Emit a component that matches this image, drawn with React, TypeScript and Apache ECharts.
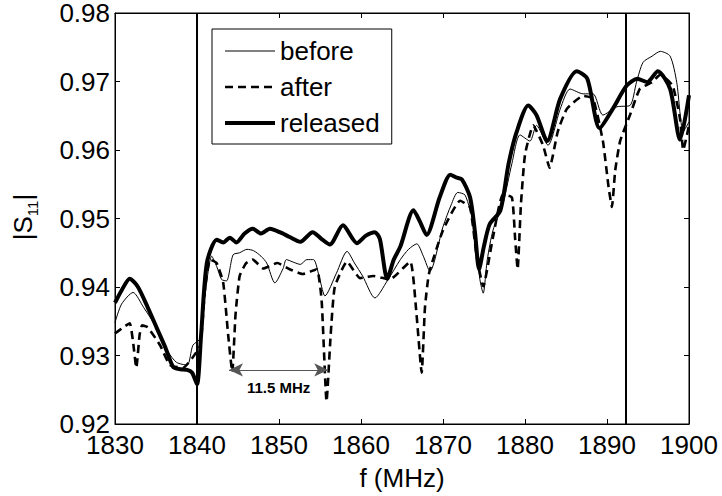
import React, { useEffect, useRef } from "react";
import * as echarts from "echarts";

const FONT = "'Liberation Sans', Arial, Helvetica, sans-serif";

// frequency (MHz) / |S11| readings for each measurement state
const beforeX = [1830, 1830.8, 1832.2, 1833.5, 1835.1, 1836.5, 1837.5, 1838.8, 1839.5, 1840.4, 1841.0, 1841.8, 1842.4, 1843.0, 1843.6, 1844.4, 1845.2, 1846.1, 1846.9, 1847.8, 1848.5, 1849.5, 1850.5, 1850.9, 1851.8, 1852.6, 1853.4, 1854.2, 1855.0, 1855.6, 1857.0, 1858.3, 1859.2, 1860.2, 1861.7, 1863.2, 1864.8, 1865.8, 1866.8, 1867.6, 1868.4, 1870.0, 1871.0, 1871.8, 1872.7, 1873.7, 1874.5, 1874.9, 1875.4, 1876.1, 1877.3, 1878.4, 1879.4, 1880.6, 1881.4, 1882.8, 1884.3, 1885.5, 1887.1, 1888.3, 1889.5, 1891.2, 1892.8, 1893.6, 1894.4, 1895.5, 1896.5, 1897.7, 1898.5, 1899.3, 1900.0];
const beforeY = [0.9348, 0.9375, 0.9392, 0.9370, 0.9340, 0.9305, 0.9290, 0.9286, 0.9315, 0.9325, 0.9390, 0.9445, 0.9430, 0.9411, 0.9409, 0.9447, 0.9450, 0.9455, 0.9453, 0.9445, 0.9435, 0.9406, 0.9427, 0.9440, 0.9436, 0.9433, 0.9440, 0.9440, 0.9410, 0.9387, 0.9420, 0.9452, 0.9435, 0.9416, 0.9384, 0.9409, 0.9440, 0.9455, 0.9463, 0.9445, 0.9423, 0.9488, 0.9520, 0.9538, 0.9534, 0.9492, 0.9411, 0.9391, 0.9440, 0.9483, 0.9521, 0.9580, 0.9622, 0.9613, 0.9636, 0.9607, 0.9660, 0.9689, 0.9682, 0.9682, 0.9651, 0.9663, 0.9665, 0.9699, 0.9728, 0.9737, 0.9744, 0.9737, 0.9699, 0.9627, 0.9641];

const afterX = [1830, 1831.0, 1831.8, 1832.2, 1832.6, 1833.0, 1833.3, 1834.0, 1835.5, 1836.7, 1838.3, 1839.4, 1840.4, 1841.0, 1841.6, 1842.4, 1843.2, 1843.8, 1844.3, 1844.7, 1845.2, 1846.0, 1846.8, 1848.1, 1849.8, 1851.3, 1852.9, 1854.6, 1855.2, 1855.8, 1856.3, 1856.8, 1858.3, 1859.9, 1861.5, 1863.5, 1866.0, 1866.7, 1867.4, 1867.8, 1868.3, 1870.0, 1872.1, 1873.3, 1874.1, 1874.9, 1876.1, 1877.3, 1878.4, 1878.8, 1879.1, 1879.5, 1880.0, 1881.0, 1882.2, 1883.0, 1884.0, 1885.1, 1887.1, 1888.3, 1889.5, 1890.2, 1890.6, 1891.0, 1891.6, 1892.8, 1894.0, 1895.5, 1896.5, 1898.0, 1898.9, 1899.3, 1900.0];
const afterY = [0.9332, 0.9341, 0.9347, 0.9320, 0.9282, 0.9330, 0.9344, 0.9341, 0.9315, 0.9286, 0.9282, 0.9296, 0.9315, 0.9400, 0.9440, 0.9435, 0.9406, 0.9330, 0.9276, 0.9360, 0.9416, 0.9435, 0.9440, 0.9427, 0.9435, 0.9426, 0.9419, 0.9426, 0.9380, 0.9233, 0.9330, 0.9400, 0.9437, 0.9413, 0.9416, 0.9411, 0.9437, 0.9370, 0.9275, 0.9370, 0.9420, 0.9483, 0.9526, 0.9516, 0.9445, 0.9401, 0.9473, 0.9535, 0.9531, 0.9470, 0.9426, 0.9520, 0.9593, 0.9636, 0.9607, 0.9574, 0.9627, 0.9660, 0.9679, 0.9675, 0.9613, 0.9545, 0.9517, 0.9570, 0.9613, 0.9651, 0.9689, 0.9699, 0.9710, 0.9694, 0.9646, 0.9600, 0.9636];

const releasedX = [1830, 1830.8, 1831.8, 1832.8, 1834.0, 1835.1, 1836.2, 1837.1, 1838.0, 1838.8, 1839.4, 1840.0, 1840.5, 1841.2, 1842.4, 1843.2, 1844.0, 1844.8, 1845.8, 1846.8, 1847.8, 1848.9, 1850.1, 1851.3, 1852.6, 1854.1, 1855.2, 1856.2, 1857.8, 1859.5, 1860.6, 1861.7, 1862.3, 1863.2, 1864.0, 1864.8, 1866.4, 1867.2, 1868.0, 1869.6, 1870.9, 1871.6, 1872.3, 1873.3, 1873.9, 1874.4, 1875.0, 1875.7, 1877.0, 1878.0, 1879.0, 1880.4, 1881.4, 1882.7, 1884.3, 1886.3, 1887.6, 1889.1, 1890.7, 1892.4, 1893.7, 1894.9, 1896.2, 1897.7, 1898.9, 1900.0];
const releasedY = [0.9377, 0.9395, 0.9412, 0.9400, 0.9370, 0.9340, 0.9310, 0.9283, 0.9280, 0.9279, 0.9275, 0.9258, 0.9330, 0.9435, 0.9469, 0.9465, 0.9472, 0.9465, 0.9478, 0.9485, 0.9478, 0.9485, 0.9480, 0.9473, 0.9466, 0.9480, 0.9470, 0.9462, 0.9490, 0.9464, 0.9475, 0.9480, 0.9470, 0.9412, 0.9440, 0.9459, 0.9512, 0.9495, 0.9476, 0.9531, 0.9564, 0.9560, 0.9557, 0.9531, 0.9480, 0.9426, 0.9460, 0.9492, 0.9512, 0.9580, 0.9627, 0.9665, 0.9651, 0.9613, 0.9675, 0.9715, 0.9704, 0.9632, 0.9660, 0.9694, 0.9704, 0.9699, 0.9715, 0.9689, 0.9615, 0.9680];

const seriesNames = ["before", "after", "released"];
const markerFreqs = [1840, 1892.3];
const spanFreqs = [1843.9, 1856.0];
const spanLevel = 0.9279;
const spanLabel = "11.5 MHz";

const X_MIN = 1830, X_MAX = 1900, X_STEP = 10;
const Y_MIN = 0.92, Y_MAX = 0.98, Y_STEP = 0.01;

const zip = (xs: number[], ys: number[]) => xs.map((x, i) => [x, ys[i]]);

const thin = { color: "#000", width: 1, type: "solid" as const };
const dashed = { color: "#000", width: 2.6, type: [8, 5] as number[] };
const thick = { color: "#000", width: 4, type: "solid" as const };

export default function App() {
  const ref = useRef<HTMLDivElement>(null);
  useEffect(() => {
    if (!ref.current) return;
    const chart = echarts.init(ref.current, undefined, { renderer: "svg" });
    const axisCommon = {
      type: "value" as const,
      axisLine: { show: true, lineStyle: { color: "#000", width: 1 } },
      axisTick: { show: true, inside: true, length: 5, lineStyle: { color: "#000" } },
      splitLine: { show: false },
    };
    chart.setOption({
      animation: false,
      backgroundColor: "#fff",
      textStyle: { fontFamily: FONT },
      grid: { left: 115, right: 33, top: 13, bottom: 67, show: true, borderColor: "#000", borderWidth: 1 },
      legend: {
        data: [
          { name: seriesNames[0], lineStyle: thin },
          { name: seriesNames[1], lineStyle: dashed },
          { name: seriesNames[2], lineStyle: thick },
        ],
        orient: "vertical",
        left: 212,
        top: 29,
        backgroundColor: "#fff",
        borderColor: "#000",
        borderWidth: 1,
        borderRadius: 0,
        padding: [9, 12, 8, 11],
        itemWidth: 50,
        itemHeight: 24,
        itemGap: 10,
        itemStyle: { opacity: 0 },
        textStyle: { fontSize: 26, color: "#000", fontFamily: FONT },
        selectedMode: false,
      },
      xAxis: [
        {
          ...axisCommon,
          min: X_MIN, max: X_MAX, interval: X_STEP,
          position: "bottom",
          axisLabel: { show: true, fontSize: 26, color: "#000", margin: 8, fontFamily: FONT, formatter: (v: number) => String(v) },
          name: "f (MHz)",
          nameLocation: "middle",
          nameGap: 41,
          nameTextStyle: { fontSize: 26, color: "#000", fontFamily: FONT },
        },
        {
          ...axisCommon,
          min: X_MIN, max: X_MAX, interval: X_STEP,
          position: "top",
          axisLabel: { show: false },
        },
      ],
      yAxis: [
        {
          ...axisCommon,
          min: Y_MIN, max: Y_MAX, interval: Y_STEP,
          position: "left",
          axisLabel: { show: true, fontSize: 26, color: "#000", margin: 5, fontFamily: FONT, formatter: (v: number) => v.toFixed(2) },
        },
        {
          ...axisCommon,
          min: Y_MIN, max: Y_MAX, interval: Y_STEP,
          position: "right",
          axisLabel: { show: false },
        },
      ],
      graphic: [
        {
          type: "text",
          x: 23,
          y: 217,
          rotation: Math.PI / 2,
          style: {
            text: "{a||S}{b|11}{a||}",
            align: "center",
            verticalAlign: "middle",
            fill: "#000",
            fontFamily: FONT,
            rich: {
              a: { fontSize: 26, lineHeight: 34, fontFamily: FONT, fill: "#000" },
              b: { fontSize: 15, lineHeight: 15, verticalAlign: "bottom", fontFamily: FONT, fill: "#000" },
            },
          },
        },
      ],
      series: [
        {
          name: seriesNames[0],
          type: "line",
          data: zip(beforeX, beforeY),
          symbol: "none",
          showSymbol: false,
          smooth: 0.25,
          color: "#000",
          lineStyle: thin,
          z: 3,
        },
        {
          name: seriesNames[1],
          type: "line",
          data: zip(afterX, afterY),
          symbol: "none",
          showSymbol: false,
          smooth: 0.15,
          color: "#000",
          lineStyle: dashed,
          z: 3,
        },
        {
          name: seriesNames[2],
          type: "line",
          data: zip(releasedX, releasedY),
          symbol: "none",
          showSymbol: false,
          smooth: 0.25,
          color: "#000",
          lineStyle: thick,
          z: 3,
          markLine: {
            silent: true,
            animation: false,
            symbol: "none",
            lineStyle: { color: "#000", width: 2, type: "solid" },
            label: { show: false },
            data: [
              ...markerFreqs.map((f) => ({ xAxis: f })),
              [
                {
                  coord: [spanFreqs[0], spanLevel],
                  symbol: "arrow",
                  symbolSize: [10, 14],
                  lineStyle: { color: "#555", width: 1, type: "solid" },
                  label: {
                    show: true,
                    formatter: spanLabel,
                    position: "insideMiddleBottom",
                    distance: 10,
                    fontSize: 15,
                    fontWeight: "bold",
                    color: "#000",
                    fontFamily: FONT,
                  },
                },
                { coord: [spanFreqs[1], spanLevel], symbol: "arrow", symbolSize: [10, 14] },
              ],
            ],
          },
        },
      ],
    });
    return () => chart.dispose();
  }, []);
  return <div ref={ref} style={{ position: "fixed", left: 0, top: 0, width: 722, height: 496, background: "#fff" }} />;
}
